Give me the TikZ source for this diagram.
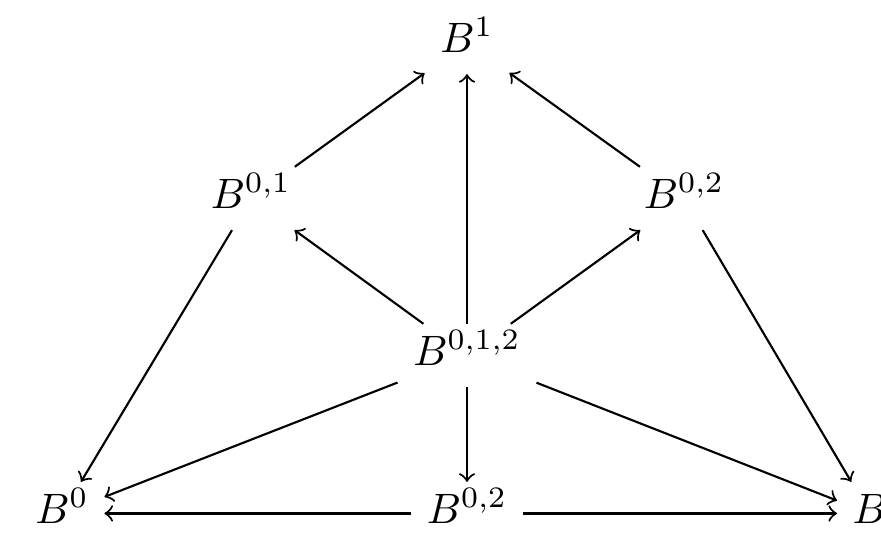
\documentclass[tikz,border=0pt]{standalone}
\begin{document}
\begin{tikzpicture}[x=0.2353pt,y=-0.2353pt,
  every node/.style={inner sep=3.5pt, text height=6pt, text depth=1.5pt},
  obj/.style={anchor=base},
  arr/.style={->, line width=0.5pt}]
\useasboundingbox (0,0) rectangle (881,548);
\node[obj] (B1) at (467,52) {$B^1$};
\node[obj] (B01) at (251,208) {$B^{0,1}$};
\node[obj] (B02t) at (684,208) {$B^{0,2}$};
\node[obj] (B012) at (467,365) {$B^{0,1,2}$};
\node[obj] (B0) at (62,523) {$B^0$};
\node[obj] (B02b) at (467,523) {$B^{0,2}$};
\node[anchor=base west] (B) at (837,523) {$B$};
\draw[arr] (B01) -- (B1);
\draw[arr] (B012) -- (B1);
\draw[arr] (B02t) -- (B1);
\draw[arr] (B012) -- (B01);
\draw[arr] (B012) -- (B02t);
\draw[arr] (B01) -- (B0);
\draw[arr] (B02t) -- (B);
\draw[arr] (B012) -- (B0);
\draw[arr] (B012) -- (B);
\draw[arr] (B012) -- (B02b);
\draw[arr] (B02b) -- (B0);
\draw[arr] (B02b) -- (B);
\end{tikzpicture}
\end{document}
